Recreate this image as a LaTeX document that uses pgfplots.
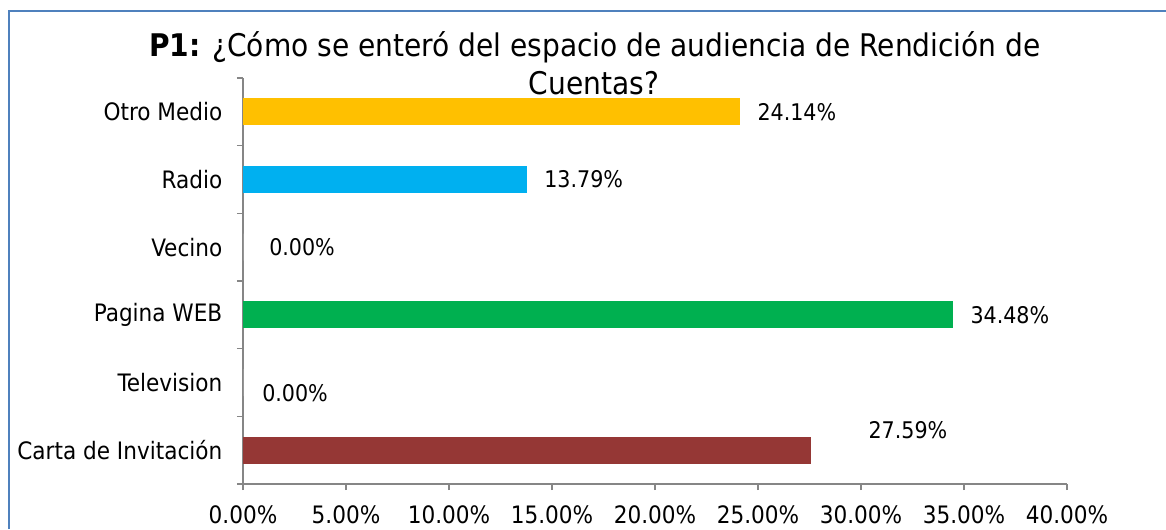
\documentclass[border=0pt]{standalone}
\usepackage{pgfplots}
\pgfplotsset{compat=1.18}
\usepackage{fontspec}
\setmainfont{DejaVu Sans Condensed}

\definecolor{frameblue}{HTML}{4F81BD}
\definecolor{axisgray}{HTML}{868686}
\definecolor{cOtro}{HTML}{FFC000}
\definecolor{cRadio}{HTML}{00B0F0}
\definecolor{cWeb}{HTML}{00B050}
\definecolor{cCarta}{HTML}{953735}

\newcommand{\lblfont}{\fontsize{18}{21}\selectfont}
\newcommand{\valfont}{\fontsize{17.2}{20}\selectfont}

\begin{document}
\begin{tikzpicture}
\begin{axis}[
  at={(182.25pt,33.75pt)}, anchor=south west,
  scale only axis, width=618pt, height=304.5pt,
  xbar, bar width=20.25pt, bar shift=0pt,
  xmin=0, xmax=40, ymin=-0.5, ymax=5.5,
  axis x line*=bottom, axis y line*=left,
  axis line style={axisgray, line width=1.1pt},
  tick style={axisgray, line width=1.1pt},
  tick align=outside, major tick length=4.5pt,
  xtick={0,5,...,40},
  xticklabel={\pgfmathprintnumber[fixed,fixed zerofill,precision=2]{\tick}\%},
  /pgf/number format/assume math mode=true,
  ytick={-0.5,0.5,...,5.5}, yticklabels={},
  extra y ticks={0,1,2,3,4,5},
  extra y tick labels={Carta de Invitación,Television,Pagina WEB,Vecino,Radio,Otro Medio},
  extra y tick style={major tick length=0pt},
  ticklabel style={font=\lblfont},
  xticklabel style={yshift=-8.5pt},
  yticklabel style={xshift=-12pt},
  point meta=x,
  nodes near coords={\pgfmathprintnumber[fixed,fixed zerofill,precision=2]{\pgfplotspointmeta}\%},
  every node near coord/.append style={font=\valfont, anchor=west, inner sep=0pt, text=black},
  clip=false,
]
\addplot[fill=cCarta, draw=none,
  every node near coord/.append style={xshift=42.75pt, yshift=15pt}]
  coordinates {(27.59,0)};
\addplot[fill=white, draw=none,
  every node near coord/.append style={xshift=14.25pt, yshift=-8.25pt}]
  coordinates {(0,1)};
\addplot[fill=cWeb, draw=none,
  every node near coord/.append style={xshift=12.75pt}]
  coordinates {(34.48,2)};
\addplot[fill=white, draw=none,
  every node near coord/.append style={xshift=19.5pt}]
  coordinates {(0,3)};
\addplot[fill=cRadio, draw=none,
  every node near coord/.append style={xshift=12.75pt}]
  coordinates {(13.79,4)};
\addplot[fill=cOtro, draw=none,
  every node near coord/.append style={xshift=12.75pt}]
  coordinates {(24.14,5)};
\end{axis}
% title
\node[anchor=base, inner sep=0pt, font=\fontsize{23.4}{27}\selectfont]
  at (446.25pt,354pt) {\textbf{P1:} ¿Cómo se enteró del espacio de audiencia de Rendición de};
\node[anchor=base, inner sep=0pt, font=\fontsize{23.4}{27}\selectfont]
  at (445.5pt,325.5pt) {Cuentas?};
% chart frame
\draw[frameblue, line width=1.5pt] (6.75pt,0pt) -- (6.75pt,388.5pt) -- (874.5pt,388.5pt);
\pgfresetboundingbox
\useasboundingbox (0,0) rectangle (874.5pt,396.75pt);
\end{tikzpicture}
\end{document}
